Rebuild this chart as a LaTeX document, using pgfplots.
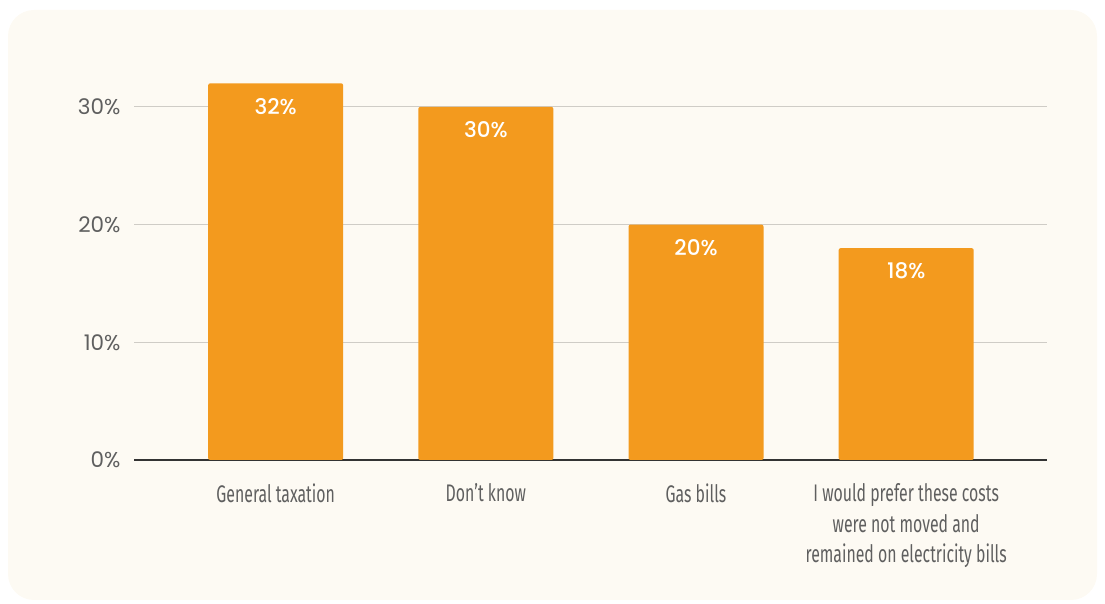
\documentclass[border=0pt]{standalone}
\usepackage{fontspec}
\setmainfont{Poppins}
\newfontfamily\medfont{Poppins Medium}
\newfontfamily\condfont{Fira Sans}[FakeStretch=0.66]
\usepackage{pgfplots}
\pgfplotsset{compat=1.18}
\definecolor{bg}{HTML}{FDFAF3}
\definecolor{barc}{HTML}{F39A1E}
\definecolor{tickc}{HTML}{5F5F5F}
\definecolor{gridc}{HTML}{CFCCC6}
\begin{document}
\begin{tikzpicture}[x=1pt,y=1pt]
\path[use as bounding box] (0,0) rectangle (1105,604);
\fill[bg, rounded corners=26pt] (8,4) rectangle (1097,594);
\begin{axis}[
  at={(134pt,144pt)}, anchor=south west,
  scale only axis, width=913pt, height=400.2pt,
  xmin=-0.674, xmax=3.67, ymin=0, ymax=34,
  axis x line*=bottom, axis y line*=left,
  x axis line style={draw=black!80, line width=1.2pt, -},
  y axis line style={draw=none},
  ytick={0,10,20,30}, yticklabels={0\%,10\%,20\%,30\%},
  ymajorgrids, grid style={gridc, line width=0.8pt},
  major tick length=0pt,
  yticklabel style={font=\fontsize{21.5}{26}\selectfont, color=tickc, anchor=east, xshift=-10pt},
  xtick={0,1,2,3},
  xticklabels={General taxation, Don’t know, Gas bills, {I would prefer these costs\\were not moved and\\remained on electricity bills}},
  xticklabel style={font=\condfont\fontsize{24}{30.5}\selectfont, color=tickc, align=center, anchor=north, yshift=-20pt},
  ybar, bar width=135pt,
  nodes near coords={\pgfmathprintnumber[assume math mode=true]{\pgfplotspointmeta}\%},
  every node near coord/.append style={font=\medfont\fontsize{21.5}{26}\selectfont, color=white, anchor=center, yshift=-23pt},
]
\addplot[fill=barc, draw=none, rounded corners=2pt] coordinates {(0,32) (1,30) (2,20) (3,18)};
\end{axis}
\end{tikzpicture}
\end{document}
